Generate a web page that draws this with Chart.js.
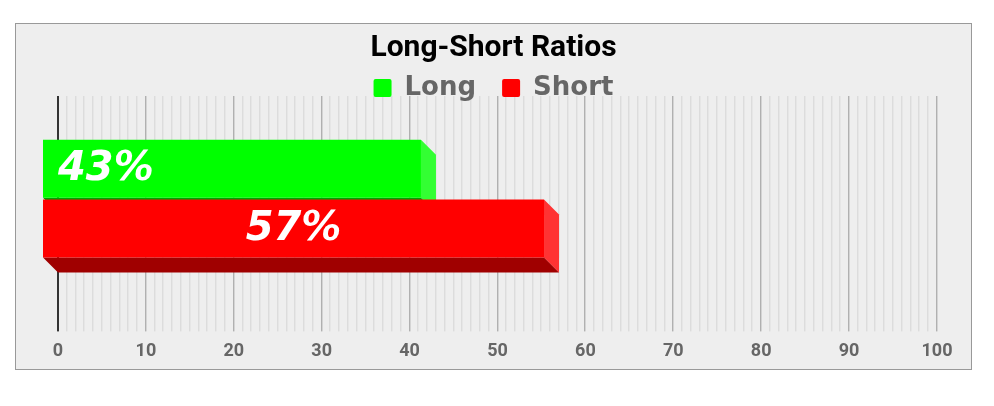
<!DOCTYPE html>
<html><head><meta charset="utf-8">
<script src="https://cdn.jsdelivr.net/npm/chart.js@4.4.1/dist/chart.umd.min.js"></script>
<style>
html,body{margin:0;padding:0;background:#fff;}
#box{position:absolute;left:15px;top:23px;width:957px;height:347px;box-sizing:border-box;border:1px solid #999;background:#eeeeee;}
#wrap{position:relative;width:955px;height:345px;}
</style></head><body>
<div id="box"><div id="wrap"><canvas id="c"></canvas></div></div>
<script>
// ---- data ----
const chartTitle = 'Long-Short Ratios';
const categories = ['Long-Short'];
const seriesNames = ['Long', 'Short'];
const longValues = [43];
const shortValues = [57];
const xMin = 0, xMax = 100, xStep = 10;

// ---- style ----
const seriesColors = ['#00ff00', '#ff0000'];
const faceColors = [{side: '#33ff33', bottom: '#00a000'}, {side: '#ff3333', bottom: '#a00000'}];
const labelAlign = ['start', 'center'];
const DX = -15, DY = -15;

const plugin3d = {
  id: 'bars3d',
  beforeDraw(chart) {
    const {ctx, chartArea: a, scales: {x}} = chart;
    ctx.save();
    const h = a.bottom - a.top;
    for (let v = x.min; v <= x.max; v++) {
      const px = Math.round(x.getPixelForValue(v));
      if (v === 0) { ctx.fillStyle = '#333'; ctx.fillRect(px - 1, a.top, 2, h); continue; }
      const major = v % 10 === 0;
      ctx.fillStyle = major ? '#b0b0b0' : '#dcdcdc';
      ctx.fillRect(px - 1, a.top, 1, h);
      ctx.fillStyle = major ? '#d4d4d4' : '#e6e6e6';
      ctx.fillRect(px, a.top, 1, h);
    }
    ctx.restore();
  },
  beforeDatasetsDraw(chart) {
    const ctx = chart.ctx;
    ctx.save();
    chart.data.datasets.forEach((ds, i) => {
      const meta = chart.getDatasetMeta(i);
      if (meta.hidden) return;
      meta.data.forEach(el => {
        const {x, y, base, height} = el.getProps(['x', 'y', 'base', 'height'], true);
        const t = y - height / 2, b = y + height / 2;
        ctx.fillStyle = faceColors[i].side;
        ctx.beginPath();
        ctx.moveTo(x + DX, t + DY); ctx.lineTo(x, t); ctx.lineTo(x, b); ctx.lineTo(x + DX, b + DY);
        ctx.closePath(); ctx.fill();
        ctx.fillStyle = faceColors[i].bottom;
        ctx.beginPath();
        ctx.moveTo(base + DX, b + DY); ctx.lineTo(x + DX, b + DY); ctx.lineTo(x, b); ctx.lineTo(base, b);
        ctx.closePath(); ctx.fill();
      });
    });
    ctx.restore();
    ctx.save();
    ctx.translate(DX, DY);
  },
  afterDatasetsDraw(chart) {
    const ctx = chart.ctx;
    ctx.restore();
    ctx.save();
    ctx.font = 'italic bold 40px "DejaVu Sans"';
    ctx.fillStyle = '#ffffff';
    ctx.textBaseline = 'middle';
    chart.data.datasets.forEach((ds, i) => {
      const meta = chart.getDatasetMeta(i);
      meta.data.forEach((el, j) => {
        const {x, y, base} = el.getProps(['x', 'y', 'base'], true);
        const txt = ds.data[j] + '%';
        if (labelAlign[i] === 'start') { ctx.textAlign = 'left'; ctx.fillText(txt, base, y + DY + 1); }
        else { ctx.textAlign = 'center'; ctx.fillText(txt, (base + x) / 2 + DX, y + DY + 1); }
      });
    });
    ctx.restore();
  },
  afterDraw(chart) {
    const ctx = chart.ctx;
    const cx = chart.width / 2;
    ctx.save();
    ctx.font = 'bold 30px Roboto';
    ctx.fillStyle = '#000';
    ctx.textAlign = 'center';
    ctx.textBaseline = 'alphabetic';
    ctx.fillText(chartTitle, cx, 32);
    // legend
    ctx.font = 'bold 26px "DejaVu Sans"';
    const box = 18, gapBox = 13, gapItem = 26;
    const items = chart.data.datasets.map((ds, i) => ({label: ds.label, color: seriesColors[i], w: ctx.measureText(ds.label).width}));
    let total = 0;
    items.forEach((it, i) => { total += box + gapBox + it.w + (i < items.length - 1 ? gapItem : 0); });
    let xPos = cx - total / 2;
    ctx.textAlign = 'left';
    items.forEach(it => {
      ctx.fillStyle = it.color;
      ctx.beginPath();
      ctx.roundRect(xPos, 55, box, box, 2);
      ctx.fill();
      ctx.fillStyle = '#666666';
      ctx.fillText(it.label, xPos + box + gapBox, 71);
      xPos += box + gapBox + it.w + gapItem;
    });
    ctx.restore();
  }
};

new Chart(document.getElementById('c'), {
  type: 'bar',
  data: {
    labels: categories,
    datasets: [
      {label: seriesNames[0], data: longValues, backgroundColor: seriesColors[0], clip: false},
      {label: seriesNames[1], data: shortValues, backgroundColor: seriesColors[1], clip: false}
    ]
  },
  options: {
    indexAxis: 'y',
    responsive: true,
    maintainAspectRatio: false,
    animation: false,
    layout: {padding: {left: 42, right: 34, top: 72, bottom: -2}},
    datasets: {bar: {categoryPercentage: 0.508, barPercentage: 0.97}},
    plugins: {legend: {display: false}, title: {display: false}, tooltip: {enabled: false}},
    scales: {
      x: {
        min: xMin, max: xMax,
        grid: {display: false, drawTicks: false},
        border: {display: false},
        ticks: {stepSize: xStep, padding: 9, color: '#666666', font: {family: 'Roboto', weight: 'bold', size: 18}}
      },
      y: {display: false}
    }
  },
  plugins: [plugin3d]
});
</script>
</body></html>
